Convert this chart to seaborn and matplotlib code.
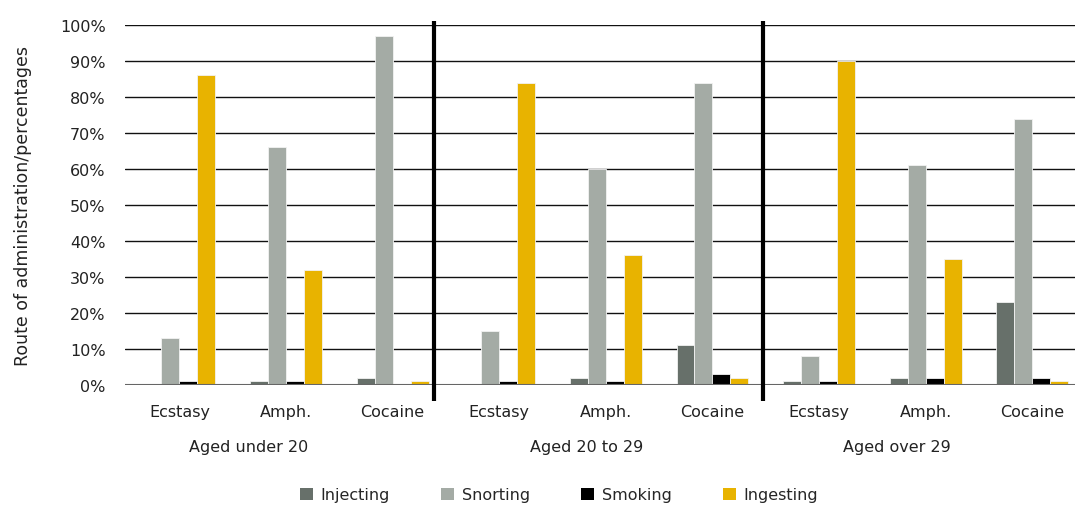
import matplotlib
matplotlib.use("Agg")
import matplotlib.pyplot as plt
import seaborn as sns
import pandas as pd
from matplotlib.patches import Patch
from matplotlib.transforms import blended_transform_factory

drugs = ["Ecstasy", "Amph.", "Cocaine"]
age_groups = ["Aged under 20", "Aged 20 to 29", "Aged over 29"]
routes = ["Injecting", "Snorting", "Smoking", "Ingesting"]
colors = ["#67706a", "#a4aba5", "#000000", "#e8b300"]

# values per age group, per drug (Ecstasy, Amph., Cocaine)
injecting = [[0, 1, 2], [0, 2, 11], [1, 2, 23]]
snorting = [[13, 66, 97], [15, 60, 84], [8, 61, 74]]
smoking = [[1, 1, 0], [1, 1, 3], [1, 2, 2]]
ingesting = [[86, 32, 1], [84, 36, 2], [90, 35, 1]]

series = dict(zip(routes, [injecting, snorting, smoking, ingesting]))
rows = []
keys = []
for gi, g in enumerate(age_groups):
    for di, d in enumerate(drugs):
        key = f"{g}|{d}"
        keys.append(key)
        for r in routes:
            rows.append({"key": key, "route": r, "value": series[r][gi][di]})
df = pd.DataFrame(rows)

sns.set_theme(style="white")
plt.rcParams["font.family"] = ["DejaVu Sans"]

fig = plt.figure(figsize=(10.75, 5.06), dpi=100)
ax = fig.add_axes([125 / 1075, 1 - 386 / 506, 1 - 125 / 1075, (386 - 26) / 506])

sns.barplot(data=df, x="key", y="value", hue="route", order=keys, hue_order=routes,
            palette=colors, width=0.675, ax=ax, legend=False, saturation=1,
            edgecolor="#f2f2f2", linewidth=0.6, zorder=3)

ax.set_ylim(0, 100)
ax.set_xlim(-0.51, 8.4)
ax.set_yticks(range(0, 101, 10))
ax.set_yticklabels([f"{v}%" for v in range(0, 101, 10)], fontsize=11.5, color="#222222")
ax.yaxis.grid(True, color="#111111", linewidth=1.0, zorder=0)
ax.set_axisbelow(True)
for s in ax.spines.values():
    s.set_visible(False)
ax.axhline(0, color="#666666", linewidth=1.5, zorder=4)
ax.tick_params(axis="y", length=0, pad=14)
ax.tick_params(axis="x", length=0, pad=14)
ax.set_xticks(range(9))
ax.set_xticklabels([k.split("|")[1] for k in keys], fontsize=11.5, color="#222222")
ax.set_xlabel("")
ax.set_ylabel("Route of administration/percentages", fontsize=12.5, color="#222222")
ax.yaxis.set_label_coords(-0.098, 0.5)

trans = blended_transform_factory(ax.transData, ax.transAxes)
for xs in [2.39, 5.47]:
    ax.plot([xs, xs], [-0.045, 1.012], transform=trans, color="black", linewidth=3,
            clip_on=False, zorder=6, solid_capstyle="butt")

for gx, g in zip([0.65, 3.82, 6.73], age_groups):
    ax.text(gx, -0.172, g, transform=trans, ha="center", va="center",
            fontsize=11.5, color="#222222")

handles = [Patch(facecolor=c, edgecolor="none") for c in colors]
fig.legend(handles, routes, loc="center", bbox_to_anchor=(0.52, 1 - 496 / 506), ncol=4,
           frameon=False, fontsize=11.5, handlelength=0.8, handleheight=0.8,
           handletextpad=0.5, columnspacing=3.2)

fig.savefig("out.png", dpi=100)
